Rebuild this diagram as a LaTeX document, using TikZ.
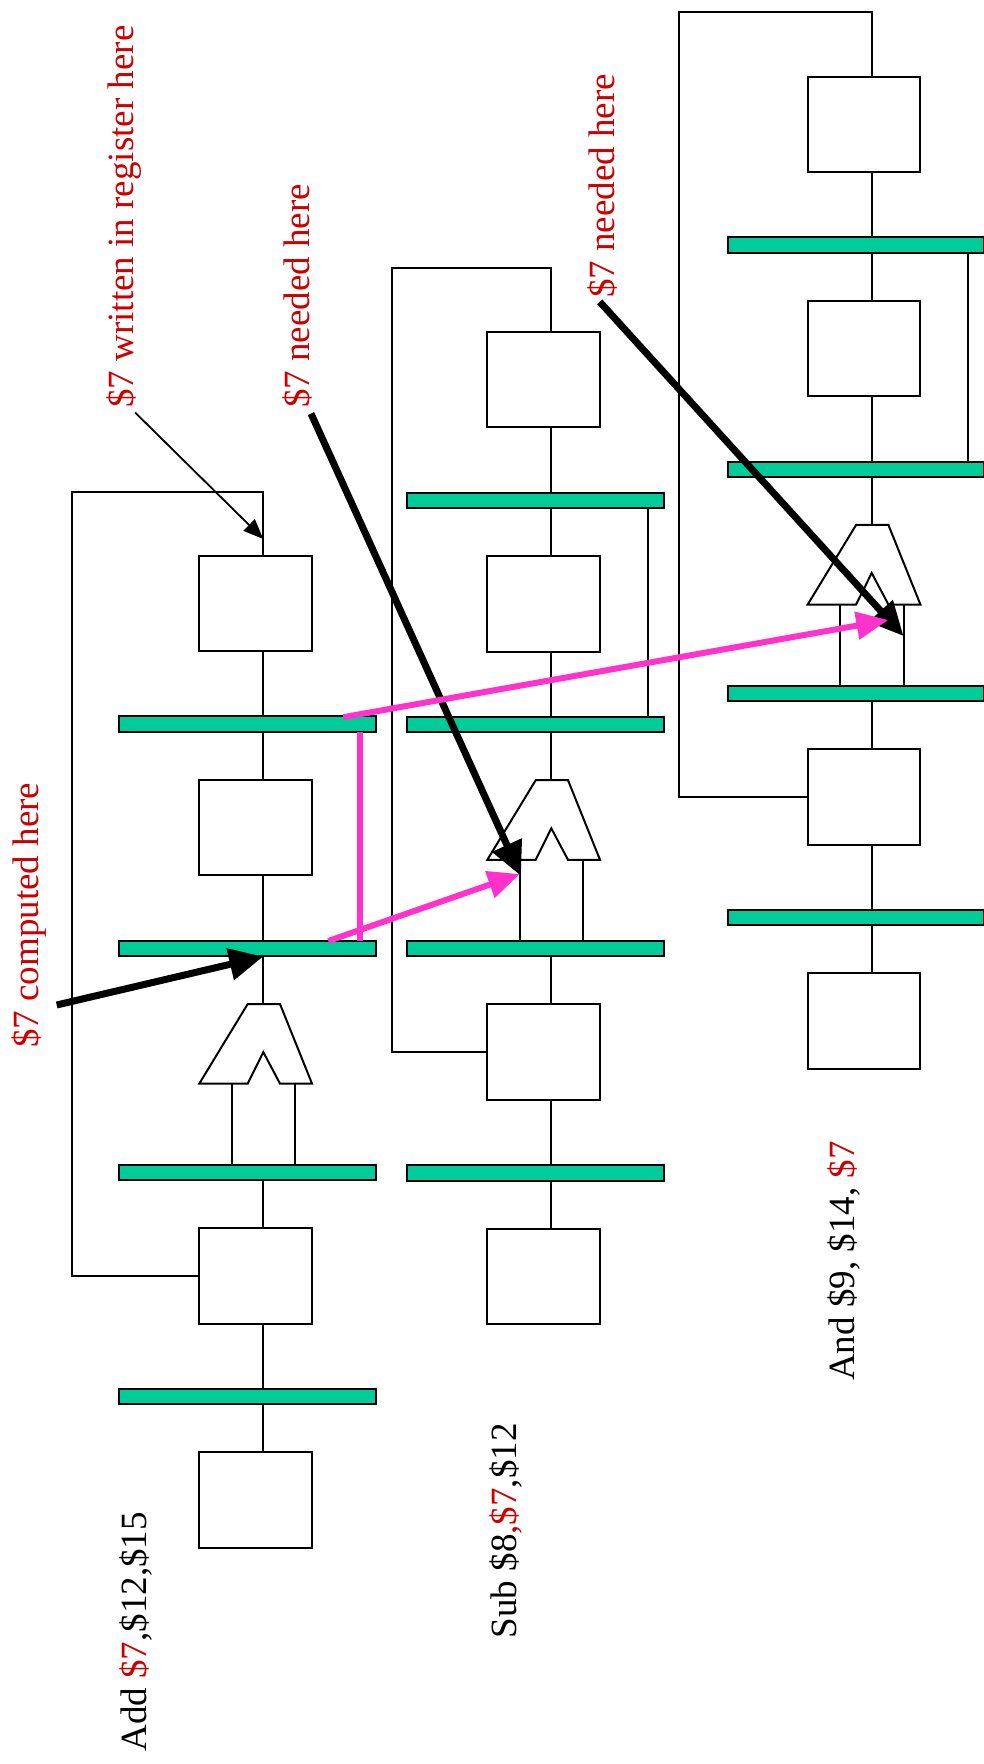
\documentclass[tikz,border=0pt]{standalone}
\usepackage{fontspec}
\setmainfont{Liberation Serif}
\usetikzlibrary{arrows.meta}
\definecolor{regbar}{HTML}{00CC99}
\definecolor{annred}{HTML}{CC0000}
\definecolor{fwdpink}{HTML}{FF33CC}
\begin{document}
\begin{tikzpicture}[x=1pt,y=-1pt,
  wire/.style={line width=2pt},
  stagebox/.style={draw, line width=2pt, fill=white, rectangle, minimum width=112.7pt, minimum height=95.6pt, inner sep=0pt, outer sep=0pt},
  pipereg/.style={draw, line width=2pt, fill=regbar, rectangle, minimum width=256.7pt, minimum height=15.4pt, inner sep=0pt, outer sep=0pt},
  alu/.style={draw, line width=2pt, fill=white, line join=miter},
  annot/.style={rotate=90, anchor=base west, inner sep=0pt, font=\fontsize{37}{44}\selectfont},
  thinarrow/.style={line width=1.8pt, -{Triangle[length=20pt,width=16pt]}},
  bigarrow/.style={line width=7pt, -{Triangle[length=34pt,width=31pt]}},
  fwdarrow/.style={draw=fwdpink, line width=6pt, -{Triangle[length=32pt,width=27pt]}, fwdpink},
]
\useasboundingbox (0,0) rectangle (983,1764);

\foreach \c/\X/\Y/\fbx in {1/263.3/555.6/71.7, 2/551.3/331.8/391.7, 3/871.7/76.5/679.3} {
  \coordinate (c\c-x) at (\X,0);
  \coordinate (c\c-rx) at ({\X+96.7},0);
  \coordinate (c\c-fb) at (\fbx,{\Y-64.1});
  \node[stagebox] (c\c-wb) at ({\X-7.65},{\Y+47.8}) {};
  \node[pipereg]  (c\c-r4) at ({\X-15.65},{\Y+168.5}) {};
  \node[stagebox] (c\c-dm) at ({\X-7.65},{\Y+272}) {};
  \node[pipereg]  (c\c-r3) at ({\X-15.65},{\Y+392.7}) {};
  \draw[alu] ({\X-15.6},{\Y+448.4}) -- ({\X+16.7},{\Y+448.4}) -- ({\X+48.7},{\Y+528}) -- ({\X+16.7},{\Y+528}) -- (\X,{\Y+496.5}) -- ({\X-15.6},{\Y+528}) -- ({\X-64},{\Y+528}) -- cycle;
  \coordinate (c\c-alutop) at (\X,{\Y+448.4});
  \coordinate (c\c-inl) at ({\X-31.6},{\Y+528});
  \coordinate (c\c-inr) at ({\X+32},{\Y+528});
  \node[pipereg]  (c\c-r2) at ({\X-15.65},{\Y+616.9}) {};
  \node[stagebox] (c\c-rf) at ({\X-7.65},{\Y+720.4}) {};
  \node[pipereg]  (c\c-r1) at ({\X-15.65},{\Y+841.1}) {};
  \node[stagebox] (c\c-im) at ({\X-7.65},{\Y+944.6}) {};
  \draw[wire] (c\c-x |- c\c-wb.south) -- (c\c-x |- c\c-r4.north);
  \draw[wire] (c\c-x |- c\c-r4.south) -- (c\c-x |- c\c-dm.north);
  \draw[wire] (c\c-x |- c\c-dm.south) -- (c\c-x |- c\c-r3.north);
  \draw[wire] (c\c-x |- c\c-r3.south) -- (c\c-alutop);
  \draw[wire] (c\c-inl) -- (c\c-inl |- c\c-r2.north);
  \draw[wire] (c\c-inr) -- (c\c-inr |- c\c-r2.north);
  \draw[wire] (c\c-x |- c\c-r2.south) -- (c\c-x |- c\c-rf.north);
  \draw[wire] (c\c-x |- c\c-rf.south) -- (c\c-x |- c\c-r1.north);
  \draw[wire] (c\c-x |- c\c-r1.south) -- (c\c-x |- c\c-im.north);
  \draw[wire] (c\c-rf.west) -| (c\c-fb) -| (c\c-x |- c\c-wb.north);
  \ifnum\c>1
    \draw[wire] (c\c-rx |- c\c-r4.south) -- (c\c-rx |- c\c-r3.north);
  \fi
}

% annotation texts
\node[annot, text=annred] (tcomp) at (38.5,1048) {\$7 computed here};
\node[annot, text=annred] (twr) at (133,408) {\$7 written in register here};
\node[annot, text=annred] (tn1) at (309.8,408) {\$7 needed here};
\node[annot, text=annred] (tn2) at (614.3,298) {\$7 needed here};
\node[annot] (tadd) at (146.8,1751.7) {Add {\color{annred}\$7},\$12,\$15};
\node[annot] (tsub) at (516.8,1638.3) {Sub \$8{\color{annred},\$7},\$12};
\node[annot] (tand) at (854,1381) {And \$9, \$14, {\color{annred}\$7}};

% arrow end points
\coordinate (wrS) at (135.1,412.5);
\coordinate (wrT) at (263.3,539);
\coordinate (cpS) at (56.7,1005);
\coordinate (cpT) at (263.3,956.5);
\coordinate (n1S) at (311,413.6);
\coordinate (n1T) at (521,876);
\coordinate (n2S) at (599.7,301.8);
\coordinate (n2T) at (903.5,636);
\coordinate (p1S) at (343.3,717.2);
\coordinate (p1T) at (888.3,620);
\coordinate (p2S) at (328.3,941);
\coordinate (p2T) at (520,874);

\draw[thinarrow] (wrS) -- (wrT);
\draw[bigarrow] (cpS) -- (cpT);
\draw[bigarrow] (n1S) -- (n1T);
\draw[bigarrow] (n2S) -- (n2T);
\draw[draw=fwdpink, line width=6pt] (c1-rx |- c1-r4.south) -- (c1-rx |- c1-r3.north);
\draw[fwdarrow] (p1S) -- (p1T);
\draw[fwdarrow] (p2S) -- (p2T);
\end{tikzpicture}
\end{document}
